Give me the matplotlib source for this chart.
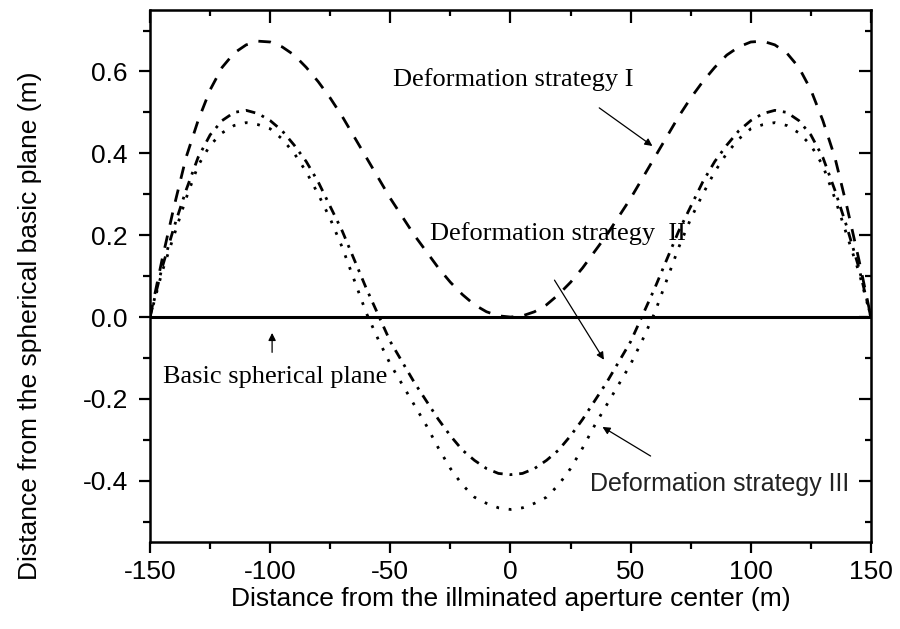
import matplotlib
matplotlib.use("Agg")
import matplotlib.pyplot as plt
from matplotlib.ticker import MultipleLocator, FormatStrFormatter

plt.rcParams['axes.unicode_minus'] = False

# distance from aperture centre (m), 5 m steps
x_pos = list(range(-150, 151, 5))

# strategy I (dashed)
strat1 = [0.0, 0.14, 0.27, 0.39, 0.48, 0.555, 0.61, 0.645, 0.665, 0.674, 0.672,
          0.66, 0.64, 0.61, 0.575, 0.535, 0.49, 0.44, 0.39, 0.34, 0.29,
          0.245, 0.20, 0.16, 0.12, 0.085, 0.055, 0.03, 0.013, 0.003, 0.0,
          0.003, 0.013, 0.03, 0.055, 0.085, 0.12, 0.16, 0.20, 0.245, 0.29,
          0.34, 0.39, 0.44, 0.49, 0.535, 0.575, 0.61, 0.64, 0.66, 0.672,
          0.674, 0.665, 0.645, 0.61, 0.555, 0.48, 0.39, 0.27, 0.14, 0.0]

# strategy II (dash-dot)
strat2 = [0.0, 0.12, 0.22, 0.31, 0.39, 0.445, 0.48, 0.50, 0.505, 0.497, 0.48,
          0.455, 0.42, 0.38, 0.33, 0.27, 0.21, 0.14, 0.07, 0.005, -0.06,
          -0.11, -0.16, -0.205, -0.25, -0.29, -0.325, -0.35, -0.37, -0.382, -0.385,
          -0.382, -0.37, -0.35, -0.325, -0.29, -0.25, -0.205, -0.16, -0.11, -0.06,
          0.005, 0.07, 0.14, 0.21, 0.27, 0.33, 0.38, 0.42, 0.455, 0.48,
          0.497, 0.505, 0.50, 0.48, 0.445, 0.39, 0.31, 0.22, 0.12, 0.0]

# strategy III (dotted)
strat3 = [0.0, 0.11, 0.20, 0.29, 0.37, 0.42, 0.45, 0.468, 0.475, 0.47, 0.46,
          0.435, 0.40, 0.355, 0.30, 0.24, 0.17, 0.09, 0.01, -0.055, -0.115,
          -0.165, -0.215, -0.265, -0.32, -0.37, -0.41, -0.44, -0.455, -0.466, -0.47,
          -0.466, -0.455, -0.44, -0.41, -0.37, -0.32, -0.265, -0.215, -0.165, -0.115,
          -0.055, 0.01, 0.09, 0.17, 0.24, 0.30, 0.355, 0.40, 0.435, 0.46,
          0.47, 0.475, 0.468, 0.45, 0.42, 0.37, 0.29, 0.20, 0.11, 0.0]

fig = plt.figure(figsize=(9, 6.29), dpi=100)
ax = fig.add_axes([0.1667, 0.138, 0.801, 0.846])

ax.plot(x_pos, strat1, color='black', lw=2, ls=(0, (4.5, 4)))
ax.plot(x_pos, strat2, color='black', lw=2, ls=(0, (3.5, 2.5, 1, 2.5)))
ax.plot(x_pos, strat3, color='black', lw=2, ls=(0, (1, 3.5)))
ax.axhline(0, color='black', lw=2.2)

ax.set_xlim(-150, 150)
ax.set_ylim(-0.55, 0.75)
ax.xaxis.set_major_locator(MultipleLocator(50))
ax.xaxis.set_minor_locator(MultipleLocator(25))
ax.yaxis.set_major_locator(MultipleLocator(0.2))
ax.yaxis.set_minor_locator(MultipleLocator(0.1))
ax.yaxis.set_major_formatter(FormatStrFormatter('%.1f'))
ax.tick_params(which='both', direction='out', top=False, right=False, width=1.6)
ax.tick_params(which='major', length=8, labelsize=19, pad=5)
ax.tick_params(axis='y', which='major', pad=8)
ax.tick_params(which='minor', length=5)
for lab in ax.get_xticklabels() + ax.get_yticklabels():
    lab.set_family('Liberation Sans')

# inward ticks on top/right
sec_x = ax.secondary_xaxis('top')
sec_x.xaxis.set_major_locator(MultipleLocator(50))
sec_x.xaxis.set_minor_locator(MultipleLocator(25))
sec_x.tick_params(which='both', direction='in', labeltop=False, width=1.6)
sec_x.tick_params(which='major', length=9)
sec_x.tick_params(which='minor', length=4)
sec_y = ax.secondary_yaxis('right')
sec_y.yaxis.set_major_locator(MultipleLocator(0.2))
sec_y.yaxis.set_minor_locator(MultipleLocator(0.1))
sec_y.tick_params(which='both', direction='in', labelright=False, width=1.6)
sec_y.tick_params(which='major', length=9)
sec_y.tick_params(which='minor', length=4)

for sp in ax.spines.values():
    sp.set_linewidth(1.8)

ax.set_xlabel('Distance from the illminated aperture center (m)', fontsize=19,
              family='Liberation Sans', labelpad=2)
ax.set_ylabel('Distance from the spherical basic plane (m)', fontsize=19,
              family='Liberation Sans')
ax.yaxis.set_label_coords(-0.15, 0.407)

serif = dict(fontsize=19, family='Liberation Serif')
arrow = dict(arrowstyle='-|>', color='black', lw=0.9, mutation_scale=11)

ax.text(-49, 0.564, 'Deformation strategy I', **serif)
ax.annotate('', xy=(60, 0.414), xytext=(36, 0.515), arrowprops=arrow)

ax.text(-33.5, 0.189, 'Deformation strategy  II', **serif)
ax.annotate('', xy=(39.5, -0.11), xytext=(17.7, 0.096), arrowprops=arrow)

ax.text(33, -0.424, 'Deformation strategy III', fontsize=18, family='Liberation Sans',
        color='#222222')
ax.annotate('', xy=(37.3, -0.265), xytext=(59.3, -0.343), arrowprops=arrow)

ax.text(-144.6, -0.16, 'Basic spherical plane', **serif)
ax.annotate('', xy=(-99.2, -0.032), xytext=(-99.2, -0.093), arrowprops=arrow)

fig.savefig('out.png', dpi=100)
